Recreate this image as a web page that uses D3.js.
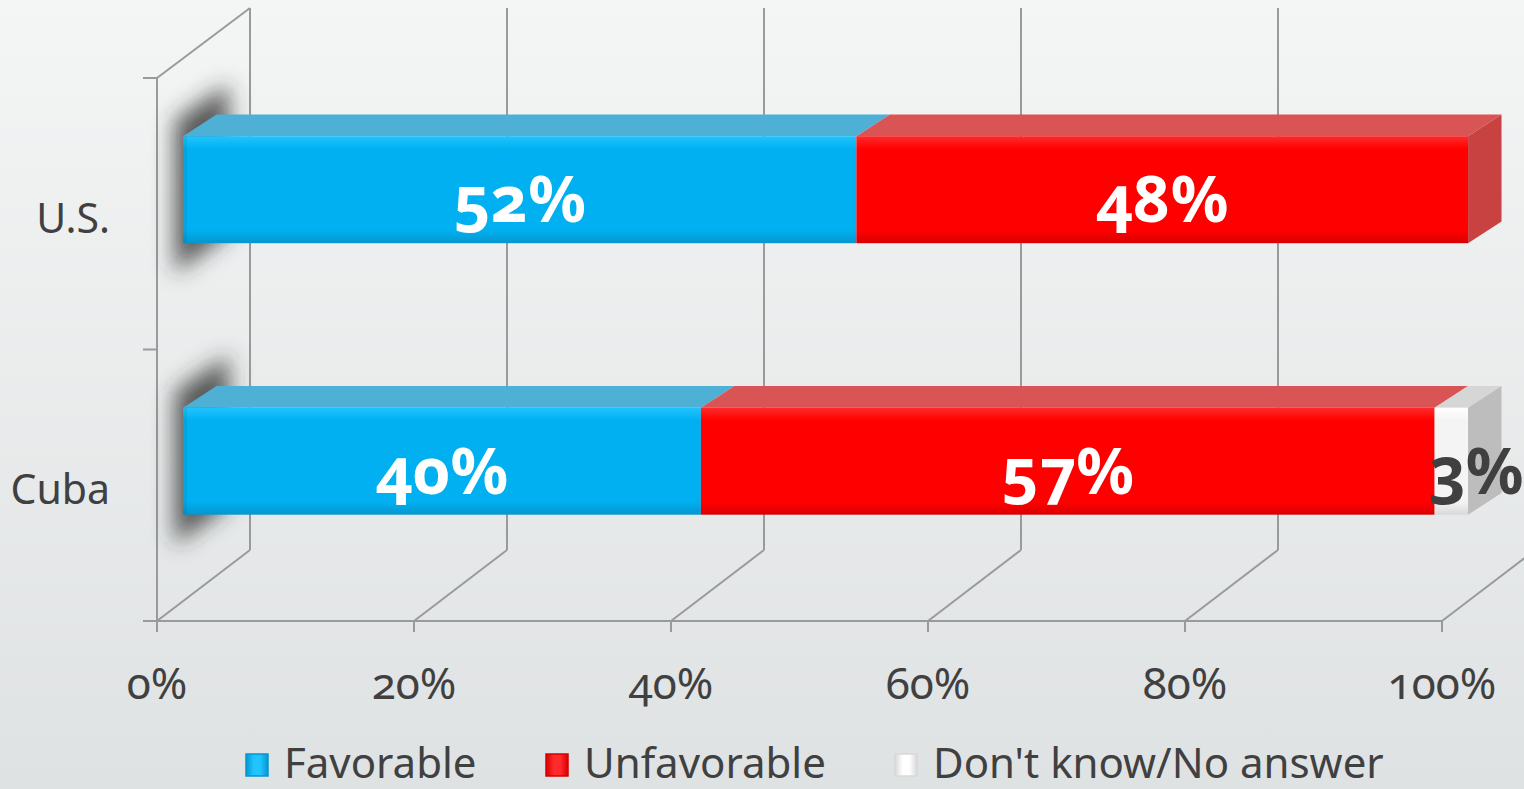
<!DOCTYPE html>
<html><head><meta charset="utf-8">
<script src="https://cdn.jsdelivr.net/npm/d3@7"></script>
<style>
html,body{margin:0;padding:0;overflow:hidden;}
svg{display:block;}
text{font-family:"Noto Sans","Open Sans",sans-serif;font-variant-numeric:oldstyle-nums;font-feature-settings:"onum" 1;}
</style></head>
<body>
<script>
// ---- data ----
const categories = ["U.S.", "Cuba"];
const seriesNames = ["Favorable", "Unfavorable", "Don't know/No answer"];
const favorable = [52.4, 40.3];
const unfavorable = [47.6, 57.1];
const dontKnow = [0, 2.6];
const tickValues = [0, 20, 40, 60, 80, 100];
const tickLabels = ["0%", "20%", "40%", "60%", "80%", "100%"];

const W = 1524, H = 789;
const svg = d3.select("body").append("svg").attr("width", W).attr("height", H);
const defs = svg.append("defs");

// background gradient
const bg = defs.append("linearGradient").attr("id","bg").attr("x1",0).attr("y1",0).attr("x2",0).attr("y2",1);
bg.append("stop").attr("offset","0%").attr("stop-color","#f4f5f5");
bg.append("stop").attr("offset","100%").attr("stop-color","#dfe2e3");
svg.append("rect").attr("width",W).attr("height",H).attr("fill","url(#bg)");

const colors = {
  front: ["#00b0f0", "#ff0000", "#f4f4f4"],
  hi:    ["#20c4ff", "#ff2a2a", "#ffffff"],
  lo:    ["#0596cf", "#d80000", "#d8d8d8"],
  top:   ["#4fb0d6", "#d95454", "#d6d6d6"],
  side:  ["#3a9cc8", "#c84242", "#bdbdbd"],
  label: ["#ffffff", "#ffffff", "#404040"]
};
colors.front.forEach((c,i)=>{
  const g = defs.append("linearGradient").attr("id","fg"+i).attr("x1",0).attr("y1",0).attr("x2",0).attr("y2",1);
  g.append("stop").attr("offset","0%").attr("stop-color",colors.hi[i]);
  g.append("stop").attr("offset","12%").attr("stop-color",c);
  g.append("stop").attr("offset","88%").attr("stop-color",c);
  g.append("stop").attr("offset","100%").attr("stop-color",colors.lo[i]);
  const l = defs.append("linearGradient").attr("id","lg"+i).attr("x1",0).attr("y1",0).attr("x2",1).attr("y2",0);
  l.append("stop").attr("offset","0%").attr("stop-color",colors.lo[i]);
  l.append("stop").attr("offset","35%").attr("stop-color",colors.hi[i]);
  l.append("stop").attr("offset","65%").attr("stop-color",colors.hi[i]);
  l.append("stop").attr("offset","100%").attr("stop-color",colors.lo[i]);
});
const blur = defs.append("filter").attr("id","blur")
  .attr("filterUnits","userSpaceOnUse").attr("x",0).attr("y",0).attr("width",400).attr("height",789);
blur.append("feGaussianBlur").attr("in","SourceGraphic").attr("stdDeviation",11);

// ---- scales ----
const x = d3.scaleLinear().domain([0,100]).range([157,1442]);
const y = d3.scaleBand().domain(categories).range([78,621]).padding(0);
const DX = 93, DY = -71;           // full depth offset of back wall
const f0 = 0.28, f1 = 0.64;        // bar depth (front/back) as fraction
const gridColor = "#9a9a9a";

// ---- walls / grid ----
const grid = svg.append("g").attr("stroke",gridColor).attr("stroke-width",2).attr("fill","none");
tickValues.forEach(v=>{
  grid.append("line").attr("x1",x(v)+DX).attr("x2",x(v)+DX).attr("y1",8).attr("y2",621+DY);
  grid.append("line").attr("x1",x(v)).attr("y1",621).attr("x2",x(v)+DX).attr("y2",621+DY);
  grid.append("line").attr("x1",x(v)).attr("x2",x(v)).attr("y1",621).attr("y2",632);
});
// left wall
grid.append("line").attr("x1",x(0)).attr("x2",x(0)).attr("y1",y.range()[0]).attr("y2",621);
grid.append("line").attr("x1",x(0)).attr("y1",y.range()[0]).attr("x2",x(0)+DX).attr("y2",y.range()[0]+DY+1);
grid.append("line").attr("x1",143).attr("x2",x(100)).attr("y1",621).attr("y2",621);
[...categories.map(c=>y(c)), 621].forEach(yy=>{
  grid.append("line").attr("x1",143).attr("x2",x(0)).attr("y1",yy).attr("y2",yy);
});

// ---- bars ----
const stacks = categories.map((c,i)=>{
  const vals = [favorable[i], unfavorable[i], dontKnow[i]];
  let acc = 0;
  return vals.map((v,k)=>{ const s = {cat:c, k, v, a:acc, b:acc+v}; acc += v; return s; });
});

const shadows = svg.append("g").attr("filter","url(#blur)");
const bars = svg.append("g");
stacks.forEach(stack=>{
  const c = stack[0].cat;
  const yT = y(c) + y.bandwidth()*0.214 + DY*f0 + 20; // front face top
  const h = y.bandwidth()*0.394;
  const ox0 = DX*f0, ox1 = DX*f1, oy = DY*(f1-f0)*0.85;
  const px = v => x(v) + ox0;
  const dxd = ox1-ox0;
  // soft shadow on left wall
  shadows.append("path")
    .attr("d", `M${px(0)-8},${yT-16} L${px(0)+dxd+12},${yT-52} L${px(0)+dxd+12},${yT+h-10} L${px(0)-8},${yT+h+30} Z`)
    .attr("fill","#2e2e2e").attr("opacity",0.8);
  const segs = stack.filter(s=>s.v>0);
  segs.forEach((s,j)=>{
    // top face
    bars.append("path")
      .attr("d", `M${px(s.a)},${yT} L${px(s.a)+dxd},${yT+oy} L${px(s.b)+dxd},${yT+oy} L${px(s.b)},${yT} Z`)
      .attr("fill",colors.top[s.k]);
    // front face
    bars.append("rect").attr("x",px(s.a)).attr("y",yT).attr("width",px(s.b)-px(s.a)).attr("height",h)
      .attr("fill","url(#fg"+s.k+")");
    if (j===segs.length-1){
      bars.append("path")
        .attr("d", `M${px(s.b)},${yT} L${px(s.b)+dxd},${yT+oy} L${px(s.b)+dxd},${yT+oy+h} L${px(s.b)},${yT+h} Z`)
        .attr("fill",colors.side[s.k]);
    }
  });
  // left end rounding shade
  bars.append("rect").attr("x",px(0)).attr("y",yT).attr("width",4).attr("height",h)
    .attr("fill","#000").attr("opacity",0.06);
  // labels
  segs.forEach(s=>{
    const small = s.v < 5;
    const cx = small ? (px(s.a) + px(s.b) + dxd)/2 + 8 : (px(s.a)+px(s.b))/2;
    bars.append("text").attr("x",cx).attr("y",yT + h/2 + 8)
      .attr("text-anchor","middle").attr("dominant-baseline","central")
      .attr("font-size",64).attr("font-weight","bold")
      .attr("fill",colors.label[s.k]).text(Math.round(s.v) + "%");
  });
});

// ---- axis labels ----
const axG = svg.append("g").attr("fill","#404040");
tickValues.forEach((v,i)=>{
  axG.append("text").attr("x",x(v)).attr("y",682).attr("text-anchor","middle")
    .attr("dominant-baseline","central").attr("font-size",44).text(tickLabels[i]);
});
categories.forEach(c=>{
  axG.append("text").attr("x",110).attr("y",y(c)+y.bandwidth()/2+3).attr("text-anchor","end")
    .attr("dominant-baseline","central").attr("font-size",41).text(c);
});

// ---- legend ----
const legX = [246, 546, 895];
const leg = svg.append("g");
seriesNames.forEach((n,i)=>{
  leg.append("rect").attr("x",legX[i]).attr("y",754).attr("width",22).attr("height",22)
    .attr("fill","url(#lg"+i+")").attr("stroke",colors.lo[i]).attr("stroke-width",1.5);
  leg.append("text").attr("x",legX[i]+38).attr("y",761).attr("dominant-baseline","central")
    .attr("font-size",42).attr("fill","#404040").text(n);
});
</script>
</body></html>
